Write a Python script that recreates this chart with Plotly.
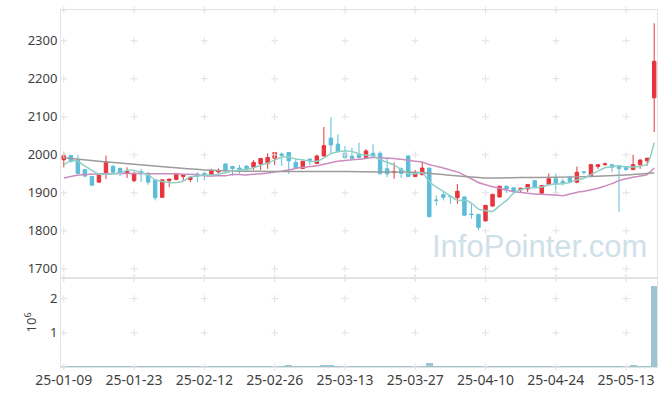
import plotly.graph_objects as go
from plotly.subplots import make_subplots

dates = [
    "25-01-09", "25-01-10", "25-01-13", "25-01-14", "25-01-15", "25-01-16", "25-01-17",
    "25-01-20", "25-01-21", "25-01-22", "25-01-23", "25-01-24", "25-01-31",
    "25-02-03", "25-02-04", "25-02-05", "25-02-06", "25-02-07", "25-02-10", "25-02-11",
    "25-02-12", "25-02-13", "25-02-14", "25-02-17", "25-02-18", "25-02-19", "25-02-20",
    "25-02-21", "25-02-24", "25-02-25", "25-02-26", "25-02-27", "25-02-28",
    "25-03-04", "25-03-05", "25-03-06", "25-03-07", "25-03-10", "25-03-11", "25-03-12",
    "25-03-13", "25-03-14", "25-03-17", "25-03-18", "25-03-19", "25-03-20", "25-03-21",
    "25-03-24", "25-03-25", "25-03-26", "25-03-27", "25-03-28", "25-03-31",
    "25-04-01", "25-04-02", "25-04-03", "25-04-04", "25-04-07", "25-04-08", "25-04-09",
    "25-04-10", "25-04-11", "25-04-14", "25-04-15", "25-04-16", "25-04-17", "25-04-18",
    "25-04-21", "25-04-22", "25-04-23", "25-04-24", "25-04-25", "25-04-28", "25-04-29",
    "25-04-30", "25-05-02", "25-05-07", "25-05-08", "25-05-09", "25-05-12", "25-05-13",
    "25-05-14", "25-05-15", "25-05-16", "25-05-19",
]

open_ = [1987, 1998, 1986, 1961, 1943, 1928, 1950, 1970, 1964, 1951, 1932, 1956, 1951, 1934, 1888,
         1932, 1935, 1943, 1935, 1949, 1951, 1948, 1955, 1976, 1969, 1965, 1970, 1967, 1976, 1977,
         1991, 2002, 2006, 1980, 1964, 1989, 1977, 1997, 2044, 2028, 2004, 1996, 2000, 1993, 2004,
         2004, 1963, 1953, 1963, 1997, 1943, 1948, 1965, 1881, 1895, 1891, 1887, 1889, 1844, 1843,
         1826, 1865, 1889, 1917, 1913, 1908, 1910, 1932, 1899, 1922, 1937, 1930, 1941, 1928, 1955,
         1944, 1969, 1974, 1974, 1971, 1969, 1961, 1974, 1984, 2150]
high = [2006, 1999, 2000, 1962, 1943, 1951, 1998, 1972, 1967, 1967, 1956, 1963, 1955, 1935, 1935,
        1937, 1951, 1949, 1943, 1954, 1955, 1963, 1964, 1977, 1971, 1973, 1973, 1986, 1991, 2004,
        2006, 2006, 2007, 1989, 1984, 1989, 2000, 2073, 2099, 2054, 2023, 2019, 2032, 2015, 2028,
        2009, 1993, 1980, 1967, 1998, 1960, 1980, 1966, 1893, 1902, 1893, 1923, 1890, 1871, 1845,
        1868, 1897, 1919, 1919, 1913, 1913, 1923, 1933, 1920, 1951, 1951, 1937, 1945, 1969, 1957,
        1976, 1975, 1980, 1975, 1972, 1970, 2000, 1989, 1992, 2346]
low = [1967, 1980, 1949, 1941, 1919, 1927, 1936, 1950, 1944, 1939, 1928, 1928, 1921, 1880, 1888,
       1915, 1933, 1932, 1928, 1928, 1933, 1946, 1951, 1951, 1945, 1950, 1956, 1960, 1960, 1963,
       1973, 1971, 1950, 1963, 1963, 1973, 1976, 1995, 2002, 2007, 1989, 1989, 1991, 1990, 1993,
       1949, 1941, 1937, 1939, 1941, 1941, 1945, 1836, 1867, 1880, 1871, 1871, 1840, 1832, 1802,
       1825, 1864, 1888, 1899, 1897, 1902, 1902, 1913, 1897, 1919, 1899, 1919, 1925, 1925, 1948,
       1943, 1963, 1971, 1954, 1850, 1958, 1960, 1963, 1971, 2060]
close = [1998, 1982, 1951, 1944, 1920, 1950, 1982, 1954, 1952, 1956, 1951, 1950, 1928, 1887, 1934,
         1936, 1951, 1948, 1941, 1944, 1946, 1958, 1958, 1960, 1964, 1962, 1963, 1980, 1990, 1993,
         2006, 1999, 1984, 1965, 1983, 1984, 1997, 2024, 2026, 2009, 1993, 1991, 1993, 2010, 1997,
         1950, 1950, 1956, 1951, 1943, 1951, 1965, 1837, 1880, 1888, 1890, 1904, 1841, 1843, 1809,
         1867, 1896, 1917, 1910, 1905, 1912, 1922, 1915, 1919, 1937, 1924, 1926, 1930, 1954, 1954,
         1974, 1974, 1976, 1967, 1964, 1961, 1974, 1986, 1991, 2246]

ma5 = [1974, 1984, 1983, 1970, 1959, 1949, 1949, 1950, 1952, 1959, 1959, 1953, 1947, 1934, 1930,
       1927, 1927, 1931, 1942, 1944, 1946, 1947, 1949, 1953, 1957, 1960, 1961, 1966, 1972, 1978,
       1986, 1994, 1994, 1989, 1987, 1983, 1983, 1991, 2003, 2008, 2010, 2009, 2002, 1999, 1997,
       1988, 1980, 1973, 1961, 1950, 1950, 1953, 1929, 1915, 1904, 1892, 1880, 1881, 1873, 1857,
       1853, 1851, 1866, 1880, 1899, 1908, 1913, 1913, 1915, 1921, 1923, 1924, 1927, 1934, 1938,
       1948, 1957, 1966, 1969, 1971, 1968, 1968, 1970, 1975, 2032]
ma20 = [1939, 1943, 1946, 1948, 1949, 1950, 1950, 1950, 1951, 1951, 1951, 1951, 1950, 1950, 1950,
        1950, 1950, 1949, 1949, 1948, 1945, 1944, 1945, 1945, 1948, 1948, 1947, 1949, 1950, 1952,
        1955, 1957, 1960, 1964, 1967, 1969, 1971, 1975, 1979, 1983, 1985, 1987, 1988, 1991, 1993,
        1992, 1991, 1990, 1988, 1986, 1983, 1981, 1974, 1970, 1965, 1960, 1955, 1946, 1937, 1927,
        1921, 1916, 1912, 1907, 1903, 1901, 1899, 1897, 1896, 1895, 1894, 1892, 1897, 1901, 1904,
        1908, 1912, 1918, 1924, 1932, 1937, 1941, 1944, 1948, 1965]
ma60_idx = [0, 5, 10, 15, 20, 25, 30, 35, 40, 45, 50, 55, 60, 65, 70, 75, 80, 84]
ma60 = [1992, 1983, 1975, 1967, 1960, 1957, 1956, 1956, 1956, 1955, 1954, 1946, 1939, 1940, 1941,
        1943, 1947, 1952]

volume = [5000, 25000, 25000, 5000, 25000, 5000, 5000, 25000, 25000, 5000, 5000, 5000, 5000, 25000,
          5000, 5000, 5000, 5000, 5000, 5000, 5000, 5000, 5000, 25000, 25000, 25000, 25000, 5000,
          25000, 5000, 25000, 5000, 70000, 5000, 5000, 5000, 5000, 40000, 70000, 25000, 5000, 5000,
          5000, 5000, 5000, 25000, 25000, 25000, 5000, 5000, 5000, 25000, 100000, 25000, 5000, 5000,
          5000, 25000, 25000, 25000, 25000, 25000, 5000, 5000, 5000, 5000, 5000, 5000, 5000, 5000,
          25000, 5000, 5000, 5000, 5000, 5000, 5000, 5000, 5000, 25000, 5000, 40000, 25000, 25000,
          2370000]

price_ticks = [1700, 1800, 1900, 2000, 2100, 2200, 2300]
vol_ticks = [1000000, 2000000]
vol_labels = ["1", "2"]
tick_dates = dates[::10]

FONT = "Noto Sans"
TXT = "#3f3f3f"
BORDER = "#e3e3e3"
GRIDMARK = "#e2e2e2"
UP = "#e8343c"
DOWN = "#5cbdd8"

PRICE_RANGE = [1675.5, 2381]
VOL_RANGE = [0, 2600000]

fig = make_subplots(rows=2, cols=1, shared_xaxes=True, vertical_spacing=0,
                    row_heights=[0.751, 0.249])

# grid "+" marks at tick intersections
gx = [d for d in tick_dates for _ in range(len(price_ticks) + 2)]
gy = [v for _ in tick_dates for v in (price_ticks + PRICE_RANGE)]
fig.add_trace(go.Scatter(x=gx, y=gy, mode="markers", hoverinfo="skip", cliponaxis=False,
                         marker=dict(symbol="cross-thin", size=5,
                                     line=dict(color=GRIDMARK, width=1))), row=1, col=1)
gx2 = [d for d in tick_dates for _ in range(len(vol_ticks) + 2)]
gy2 = [v for _ in tick_dates for v in (vol_ticks + VOL_RANGE)]
fig.add_trace(go.Scatter(x=gx2, y=gy2, mode="markers", hoverinfo="skip", cliponaxis=False,
                         marker=dict(symbol="cross-thin", size=5,
                                     line=dict(color=GRIDMARK, width=1))), row=2, col=1)

fig.add_trace(go.Candlestick(x=dates, open=open_, high=high, low=low, close=close,
                             increasing=dict(line=dict(color=UP, width=1), fillcolor=UP),
                             decreasing=dict(line=dict(color=DOWN, width=1), fillcolor=DOWN),
                             whiskerwidth=0), row=1, col=1)

fig.add_trace(go.Scatter(x=dates, y=ma20, mode="lines",
                         line=dict(color="#cc8cc0", width=1.5, shape="spline", smoothing=0.6)),
              row=1, col=1)
fig.add_trace(go.Scatter(x=[dates[i] for i in ma60_idx], y=ma60, mode="lines",
                         line=dict(color="#9c9c9c", width=1.5, shape="spline", smoothing=0.6)),
              row=1, col=1)
fig.add_trace(go.Scatter(x=dates, y=ma5, mode="lines",
                         line=dict(color="#8fd0c6", width=1.5, shape="spline", smoothing=0.6)),
              row=1, col=1)

fig.add_trace(go.Bar(x=dates, y=volume, marker=dict(color="#9cc4d3", line=dict(width=0)),
                     width=1.0), row=2, col=1)

axis_common = dict(showline=True, linecolor=BORDER, linewidth=1, mirror=True,
                   showgrid=False, zeroline=False, ticks="")

fig.update_xaxes(type="category", categoryorder="array", categoryarray=dates,
                 range=[-0.4, 84.4], tickmode="array", tickvals=tick_dates,
                 ticktext=tick_dates, rangeslider=dict(visible=False),
                 tickfont=dict(family=FONT, size=14, color=TXT), **axis_common)
fig.update_xaxes(showticklabels=False, row=1, col=1)
fig.update_yaxes(range=PRICE_RANGE, tickmode="array", tickvals=price_ticks,
                 ticktext=[str(v) for v in price_ticks],
                 tickfont=dict(family=FONT, size=13, color=TXT), **axis_common, row=1, col=1)
fig.update_yaxes(range=VOL_RANGE, tickmode="array", tickvals=vol_ticks,
                 ticktext=vol_labels,
                 tickfont=dict(family=FONT, size=13, color=TXT), **axis_common, row=2, col=1)

fig.add_annotation(text="10<sup>6</sup>", textangle=-90, xref="paper", yref="paper",
                   x=-0.052, y=0.125, xanchor="center", yanchor="middle", showarrow=False,
                   font=dict(family=FONT, size=13, color=TXT))

fig.add_annotation(text="InfoPointer.com", xref="paper", yref="paper",
                   x=0.986, y=0.282, xanchor="right", yanchor="bottom", showarrow=False,
                   font=dict(family="Liberation Sans", size=31, color="#cfe0e9"))

fig.update_layout(width=665, height=396, margin=dict(l=61, r=8, t=10, b=29),
                  paper_bgcolor="white", plot_bgcolor="white", showlegend=False,
                  bargap=0, font=dict(family=FONT, size=13, color=TXT))

fig.write_html("out.html", config={"displayModeBar": False},
               post_script="document.body.style.margin='0';document.body.style.padding='0';")
